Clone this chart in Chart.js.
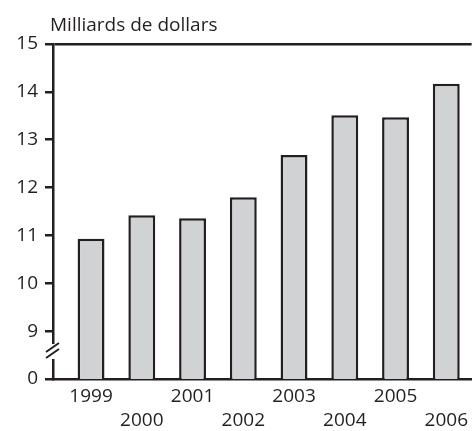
<!DOCTYPE html>
<html>
<head>
<meta charset="utf-8">
<script src="https://cdn.jsdelivr.net/npm/chart.js@4/dist/chart.umd.min.js"></script>
<style>
  body { margin: 0; background: #fff; }
  canvas { display: block; }
</style>
</head>
<body>
<canvas id="barChart" width="473" height="431"></canvas>
<script>
// data
const years = [1999, 2000, 2001, 2002, 2003, 2004, 2005, 2006];
const values = [10.93, 11.42, 11.36, 11.80, 12.68, 13.51, 13.47, 14.17];
const yTicks = [8, 9, 10, 11, 12, 13, 14, 15];
const yTickLabels = ['0', '9', '10', '11', '12', '13', '14', '15'];
const unitLabel = 'Milliards de dollars';

const ink = '#231f20';
const font = { family: '"Open Sans", sans-serif', size: 19, lineHeight: 1.3 };

// title + axis break
const extras = {
    id: 'extras',
    afterDraw(chart) {
        const ctx = chart.ctx;
        const x = chart.chartArea.left;
        ctx.save();
        ctx.fillStyle = ink;
        ctx.font = font.size + 'px ' + font.family;
        ctx.textBaseline = 'alphabetic';
        ctx.fillText(unitLabel, 50, 31);

        ctx.fillStyle = '#fff';
        ctx.fillRect(x - 3, 344, 6, 15);
        ctx.strokeStyle = ink;
        ctx.lineWidth = 2;
        ctx.beginPath();
        ctx.moveTo(46, 352); ctx.lineTo(59, 343);
        ctx.moveTo(46, 358); ctx.lineTo(59, 349);
        ctx.stroke();
        ctx.restore();
    }
};

const barCtx = document.getElementById('barChart').getContext('2d');
const barChart = new Chart(barCtx, {
    type: 'bar',
    data: {
        datasets: [{
            data: years.map((yr, i) => ({ x: yr, y: values[i] })),
            backgroundColor: '#d1d2d4',
            borderColor: ink,
            borderWidth: 2.5,
            borderSkipped: 'bottom',
            barPercentage: 0.53,
            categoryPercentage: 1
        }]
    },
    options: {
        responsive: false,
        animation: false,
        layout: { padding: { top: 44, right: 0, left: 0, bottom: 0 } },
        plugins: {
            legend: { display: false },
            tooltip: { enabled: false }
        },
        scales: {
            x: {
                type: 'linear',
                min: 1998.25,
                max: 2006.5,
                offset: false,
                afterBuildTicks: s => { s.ticks = years.map(v => ({ value: v })); },
                afterFit: s => { s.height = 52; },
                grid: { display: false, tickLength: 0 },
                border: { display: true, color: ink, width: 2.5 },
                ticks: {
                    autoSkip: false,
                    maxRotation: 0,
                    padding: 5,
                    color: ink,
                    font: font,
                    callback: (v, i) => i % 2 === 0 ? String(v) : ['', String(v)]
                }
            },
            y: {
                min: 8,
                max: 15,
                afterBuildTicks: s => { s.ticks = yTicks.map(v => ({ value: v })); },
                afterFit: s => { s.width = 53; },
                grid: {
                    drawOnChartArea: true,
                    color: c => c.tick && c.tick.value === 15 ? ink : 'rgba(0,0,0,0)',
                    lineWidth: 2.5,
                    tickColor: ink,
                    tickLength: 8,
                    tickWidth: 2.5
                },
                border: { display: true, color: ink, width: 2.5 },
                ticks: {
                    padding: 7,
                    color: ink,
                    font: { family: font.family, size: font.size },
                    callback: (v, i) => yTickLabels[i]
                }
            }
        }
    },
    plugins: [extras]
});
</script>
</body>
</html>
